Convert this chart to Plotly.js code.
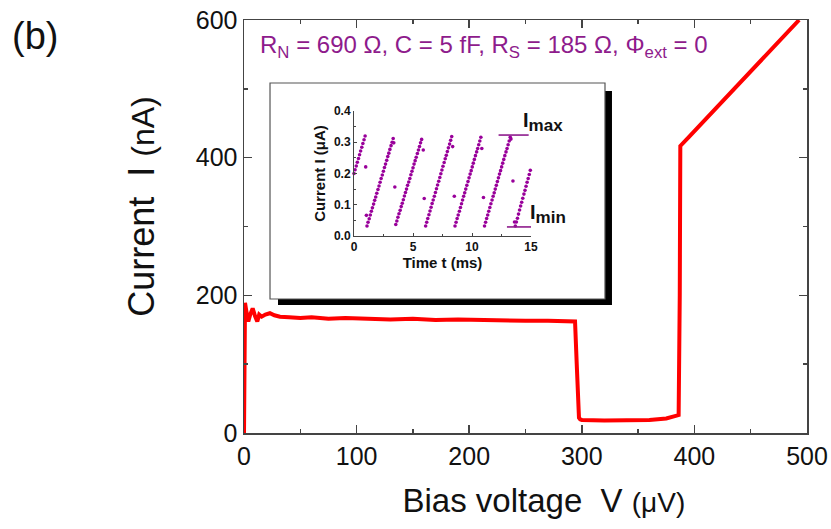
<!DOCTYPE html>
<html>
<head>
<meta charset="utf-8">
<script src="https://cdn.plot.ly/plotly-3.0.1.min.js"></script>
<style>html,body{margin:0;padding:0;background:#fff;}#chart{width:831px;height:529px;}</style>
</head>
<body>
<div id="chart"></div>
<script>
// Main I-V curve: bias voltage (µV) and current (nA)
const biasVoltage = [0, 0.3, 0.9, 2, 3.8, 5.5, 7.7, 9.8, 11.8, 13.5, 15.7, 19, 23, 27, 32, 40, 50, 60, 75, 90, 110, 130, 150, 170, 190, 210, 230, 250, 270, 285, 294, 295.5, 296.5, 297.5, 298.5, 300, 320, 340, 360, 375, 383, 386, 387, 387.5, 395, 410, 430, 450, 470, 493];
const currentNA   = [0, 120, 189, 178, 162, 172, 181, 170, 162, 172, 169, 172, 174, 171, 169, 168, 167, 168, 166, 167, 166, 165, 166, 164, 165, 164, 164, 163, 163, 162, 162, 100, 40, 22, 20, 19, 18, 18, 19, 21, 24, 26, 200, 417, 430, 456, 491, 525, 560, 600];

// Inset: time trace (ms) and current (µA)
const insetTime = [
  0, 0.09, 0.19, 0.28, 0.38, 0.47, 0.56, 0.66, 0.75, 0.85, 0.94, 0.99, 1.05,
  1.10,1.19,1.29,1.38,1.47,1.56,1.66,1.75,1.84,1.93,2.03,2.12,2.21,2.30,2.40,2.49,2.58,2.67,2.77,2.86,2.95,3.04,3.14,3.23,3.32, 3.37, 3.46,
  3.54,3.63,3.72,3.81,3.91,4.00,4.09,4.18,4.27,4.36,4.45,4.54,4.64,4.73,4.82,4.91,5.00,5.09,5.18,5.27,5.37,5.46,5.55,5.64,5.73, 5.87, 5.95,
  6.07,6.16,6.25,6.35,6.44,6.53,6.62,6.71,6.81,6.90,6.99,7.08,7.18,7.27,7.36,7.45,7.54,7.64,7.73,7.82,7.91,8.00,8.10,8.19,8.28, 8.36, 8.50,
  8.56,8.65,8.74,8.83,8.93,9.02,9.11,9.20,9.29,9.38,9.47,9.56,9.66,9.75,9.84,9.93,10.02,10.11,10.20,10.29,10.39,10.48,10.57,10.66,10.75, 10.83, 10.97,
  11.06,11.15,11.24,11.33,11.42,11.51,11.60,11.70,11.79,11.88,11.97,12.06,12.15,12.24,12.33,12.42,12.51,12.60,12.69,12.78,12.88,12.97,13.06,13.15,13.24, 13.30, 13.47, 13.60,
  13.67,13.76,13.85,13.94,14.03,14.12,14.21,14.30,14.40,14.49,14.58,14.67,14.76,14.85,14.94
];
const insetCurrent = [
  0.200,0.212,0.224,0.236,0.248,0.260,0.272,0.284,0.296,0.308,0.320, 0.221, 0.066,
  0.032,0.044,0.055,0.067,0.079,0.090,0.102,0.114,0.125,0.137,0.149,0.160,0.172,0.184,0.195,0.207,0.219,0.230,0.242,0.254,0.265,0.277,0.289,0.300,0.312, 0.298, 0.157,
  0.037,0.048,0.060,0.071,0.082,0.094,0.105,0.116,0.128,0.139,0.150,0.162,0.173,0.184,0.196,0.207,0.218,0.230,0.241,0.252,0.264,0.275,0.286,0.298,0.309, 0.275, 0.120,
  0.032,0.044,0.056,0.068,0.080,0.092,0.104,0.115,0.127,0.139,0.151,0.163,0.175,0.187,0.199,0.211,0.223,0.235,0.247,0.258,0.270,0.282,0.294,0.306,0.318, 0.286, 0.127,
  0.032,0.044,0.056,0.067,0.079,0.091,0.103,0.115,0.127,0.138,0.150,0.162,0.174,0.186,0.198,0.209,0.221,0.233,0.245,0.257,0.269,0.280,0.292,0.304,0.316, 0.280, 0.123,
  0.032,0.044,0.056,0.067,0.079,0.091,0.103,0.115,0.127,0.138,0.150,0.162,0.174,0.186,0.198,0.209,0.221,0.233,0.245,0.257,0.269,0.280,0.292,0.304,0.316, 0.310, 0.176, 0.045,
  0.032,0.045,0.057,0.070,0.083,0.096,0.108,0.121,0.134,0.146,0.159,0.172,0.184,0.197,0.210
];
const iMaxLevel = 0.323;
const iMinLevel = 0.029;
const iMaxSpan = [12.25, 14.8];
const iMinSpan = [12.96, 15.3];

const xTickVals = [0, 100, 200, 300, 400, 500];
const yTickVals = [0, 200, 400, 600];
const insetXTicks = [0, 5, 10, 15];
const insetYTicks = [0.0, 0.1, 0.2, 0.3, 0.4];

const purple = '#8e1b8c';
const axisCol = '#444';
const FAM = 'Liberation Sans, Arial, sans-serif';

const traces = [
  {x: biasVoltage, y: currentNA, type: 'scatter', mode: 'lines',
   line: {color: '#ff0000', width: 4}, xaxis: 'x', yaxis: 'y', hoverinfo: 'skip'},
  {x: insetTime, y: insetCurrent, type: 'scatter', mode: 'markers',
   marker: {color: '#99009a', size: 3.6}, xaxis: 'x2', yaxis: 'y2', cliponaxis: false, hoverinfo: 'skip'}
];

const mainFont = {family: FAM, size: 25, color: '#111'};
const boldSmall = {family: FAM, size: 12, color: '#111', weight: 'bold'};

const layout = {
  width: 831, height: 529,
  margin: {l: 244, r: 24, t: 20, b: 96},
  paper_bgcolor: '#fff', plot_bgcolor: '#fff',
  showlegend: false,
  xaxis: {
    domain: [0, 1], range: [0, 500], tickvals: xTickVals,
    ticks: 'inside', ticklen: 8, tickwidth: 1.5, tickcolor: axisCol,
    minor: {ticks: 'inside', dtick: 50, ticklen: 4, tickwidth: 1.5, tickcolor: axisCol},
    showline: true, linecolor: axisCol, linewidth: 1.5, mirror: 'allticks',
    showgrid: false, zeroline: false, tickfont: mainFont,
    title: {text: '&nbsp;&nbsp;&nbsp;&nbsp;Bias voltage&nbsp; V <span style="font-size:28px">(μV)</span>', font: {family: FAM, size: 33, color: '#111'}, standoff: 20},
    automargin: 'bottom'
  },
  yaxis: {
    domain: [0, 1], range: [0, 600], tickvals: yTickVals,
    ticks: 'inside', ticklen: 8, tickwidth: 1.5, tickcolor: axisCol,
    minor: {ticks: 'inside', dtick: 100, ticklen: 4, tickwidth: 1.5, tickcolor: axisCol},
    showline: true, linecolor: axisCol, linewidth: 1.5, mirror: 'allticks',
    showgrid: false, zeroline: false, tickfont: mainFont,
    title: {text: '&nbsp;&nbsp;&nbsp;&nbsp;Current&nbsp; I <span style="font-size:32px">(nA)</span>', font: {family: FAM, size: 36, color: '#111'}, standoff: 30},
    automargin: 'left'
  },
  xaxis2: {
    domain: [0.1954, 0.5098], anchor: 'y2', range: [0, 15], tickvals: insetXTicks,
    ticks: 'inside', ticklen: 3, tickwidth: 1, tickcolor: axisCol,
    minor: {ticks: 'inside', dtick: 2.5, ticklen: 2, tickwidth: 1, tickcolor: axisCol},
    showline: true, linecolor: axisCol, linewidth: 1, showgrid: false, zeroline: false,
    tickfont: boldSmall,
    title: {text: 'Time t (ms)', font: {family: FAM, size: 15, color: '#111', weight: 'bold'}, standoff: 3},
    automargin: false
  },
  yaxis2: {
    domain: [0.477, 0.7797], anchor: 'x2', range: [0, 0.4], tickvals: insetYTicks, tickformat: '.1f',
    ticks: 'inside', ticklen: 3, tickwidth: 1, tickcolor: axisCol,
    minor: {ticks: 'inside', dtick: 0.05, ticklen: 2, tickwidth: 1, tickcolor: axisCol},
    showline: true, linecolor: axisCol, linewidth: 1, showgrid: false, zeroline: false,
    tickfont: boldSmall,
    title: {text: 'Current I (μA)', font: {family: FAM, size: 15, color: '#111', weight: 'bold'}, standoff: 4},
    automargin: false
  },
  shapes: [
    {type: 'rect', xref: 'paper', yref: 'paper', x0: 0.0604, x1: 0.6536, y0: 0.3099, y1: 0.8281,
     fillcolor: '#000', line: {width: 0}, layer: 'below'},
    {type: 'rect', xref: 'paper', yref: 'paper', x0: 0.0462, x1: 0.6412, y0: 0.3245, y1: 0.8475,
     fillcolor: '#fff', line: {color: '#555', width: 1.2}, layer: 'below'},
    {type: 'line', xref: 'x2', yref: 'y2', x0: iMaxSpan[0], x1: iMaxSpan[1], y0: iMaxLevel, y1: iMaxLevel,
     line: {color: purple, width: 1.6}},
    {type: 'line', xref: 'x2', yref: 'y2', x0: iMinSpan[0], x1: iMinSpan[1], y0: iMinLevel, y1: iMinLevel,
     line: {color: purple, width: 1.6}}
  ],
  annotations: [
    {text: 'R<sub>N</sub> = 690 Ω, C = 5 fF, R<sub>S</sub> = 185 Ω, Φ<sub>ext</sub> = 0',
     xref: 'paper', yref: 'paper', x: 0.025, y: 0.935, xanchor: 'left', yanchor: 'middle', showarrow: false,
     font: {family: FAM, size: 24, color: purple}},
    {text: '(b)', xref: 'paper', yref: 'paper', x: -0.371, y: 0.962, xanchor: 'center', yanchor: 'middle', showarrow: false,
     font: {family: FAM, size: 38, color: '#111'}},
    {text: 'I<sub><span style="font-size:17px">max</span></sub>', xref: 'x2', yref: 'y2', x: 14.15, y: 0.365, xanchor: 'left', yanchor: 'middle', showarrow: false,
     font: {family: FAM, size: 20, color: '#111', weight: 'bold'}},
    {text: 'I<sub><span style="font-size:17px">min</span></sub>', xref: 'x2', yref: 'y2', x: 14.75, y: 0.07, xanchor: 'left', yanchor: 'middle', showarrow: false,
     font: {family: FAM, size: 20, color: '#111', weight: 'bold'}}
  ]
};

Plotly.newPlot('chart', traces, layout, {displayModeBar: false, staticPlot: true});
</script>
</body>
</html>
